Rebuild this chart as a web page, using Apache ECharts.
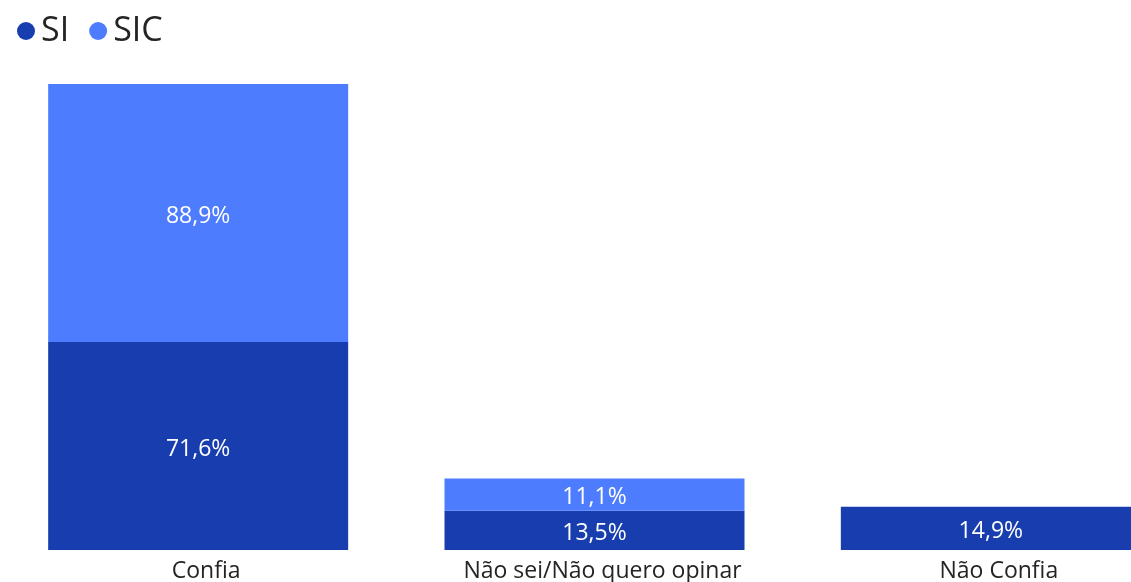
<!DOCTYPE html>
<html>
<head>
<meta charset="utf-8">
<script src="https://cdn.jsdelivr.net/npm/echarts@6/dist/echarts.min.js"></script>
<style>
html, body { margin: 0; padding: 0; width: 100%; height: 100%; background: #fff; }
#chart { width: 1131px; height: 582px; }
</style>
</head>
<body>
<div id="chart"></div>
<script>
const categories = ['Confia', 'Não sei/Não quero opinar', 'Não Confia'];
const siData = [71.6, 13.5, 14.9];
const sicData = [88.9, 11.1, null];
const yMax = 160.5;

const fmt = p => p.value == null ? '' : p.value.toFixed(1).replace('.', ',') + '%';

const chart = echarts.init(document.getElementById('chart'));
chart.setOption({
  animation: false,
  textStyle: { fontFamily: 'Open Sans' },
  legend: {
    left: 12, top: 9,
    icon: 'circle',
    itemWidth: 18, itemHeight: 18, itemGap: 20,
    textStyle: { fontSize: 34, color: '#252423', padding: [0, 0, 0, 1] },
    data: ['SI', 'SIC']
  },
  grid: { left: 0, top: 84, width: 1189, bottom: 32, containLabel: false, outerBoundsMode: 'none' },
  xAxis: {
    type: 'category',
    data: categories,
    axisLine: { show: false },
    axisTick: { show: false },
    axisLabel: { fontSize: 23, color: '#252423', margin: 10, interval: 0, padding: [0, 0, 0, 16] }
  },
  yAxis: {
    type: 'value', min: 0, max: yMax,
    show: false, splitLine: { show: false }
  },
  series: [
    {
      name: 'SI', type: 'bar', stack: 'a', data: siData, barWidth: 300,
      itemStyle: { color: '#173DAF' },
      label: { show: true, position: 'inside', offset: [0, 3], color: '#fff', fontSize: 23, formatter: fmt }
    },
    {
      name: 'SIC', type: 'bar', stack: 'a', data: sicData, barWidth: 300,
      itemStyle: { color: '#4E7CFF' },
      label: { show: true, position: 'inside', offset: [0, 3], color: '#fff', fontSize: 23, formatter: fmt }
    }
  ]
});
</script>
</body>
</html>
